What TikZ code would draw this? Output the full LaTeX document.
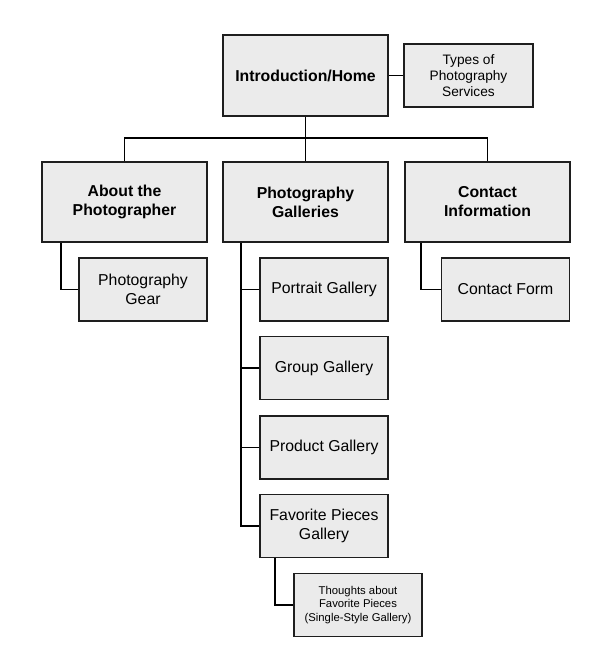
\documentclass[tikz,border=0pt]{standalone}
\usepackage{fontspec}
\setmainfont{Liberation Sans}
\definecolor{boxfill}{HTML}{EBEBEB}
\definecolor{boxline}{HTML}{1E1E1E}
\tikzset{
    page/.style={
        draw=boxline,
        fill=boxfill,
        line width=1.5pt,
        align=center,
        inner sep=0pt
    },
    mainpage/.style={
        page,
        minimum width=165pt,
        minimum height=80pt,
        font=\bfseries\fontsize{15.8}{19}\selectfont
    },
    subpage/.style={
        page,
        minimum width=128pt,
        minimum height=63pt,
        font=\fontsize{15.8}{18.3}\selectfont
    },
    link/.style={
        line width=1.6pt,
        draw=black
    }
}

\begin{document}
\begin{tikzpicture}[x=1pt,y=-1pt]
\useasboundingbox (0,0) rectangle (612,668);
% top level
\node[mainpage, minimum height=81pt] (intro) at (305.5,75.5) {Introduction/Home};
\node[subpage, minimum width=129pt, font=\fontsize{13.7}{16}\selectfont] (types) at (468.5,75.5) {Types of\\Photography\\Services};
% second level
\node[mainpage] (about) at (124.5,202) {About the\\Photographer};
\node[mainpage] (galleries) at (305.5,202) {Photography\\Galleries};
\node[mainpage] (contact) at (487.5,202) {Contact\\Information};
% third level
\node[subpage] (gear) at (143,289.5) {Photography\\Gear};
\node[subpage] (portrait) at (324,289.5) {Portrait Gallery};
\node[subpage] (group) at (324,368) {Group Gallery};
\node[subpage] (product) at (324,447.5) {Product Gallery};
\node[subpage] (fav) at (324,526) {Favorite Pieces\\Gallery};
\node[subpage] (form) at (505.5,289.5) {Contact Form};
\node[subpage, font=\fontsize{11.3}{13.6}\selectfont] (thoughts) at (358,605) {Thoughts about\\Favorite Pieces\\(Single-Style Gallery)};
% connectors
\coordinate (bus) at (305.5,138);
\coordinate (spine) at ([xshift=19pt]galleries.south west);
\draw[link] (intro.east) -- (types.west);
\draw[link] (intro.south) -- (galleries.north);
\draw[link] (about.north) |- (bus) -| (contact.north);
\draw[link] ([xshift=20pt]about.south west) |- (gear.west);
\draw[link] ([xshift=17pt]contact.south west) |- (form.west);
\draw[link] (spine) |- (fav.west);
\foreach \g in {portrait,group,product}
  \draw[link] (\g.west) -- (\g.west -| spine);
\draw[link] ([xshift=16pt]fav.south west) |- (thoughts.west);
\end{tikzpicture}
\end{document}
